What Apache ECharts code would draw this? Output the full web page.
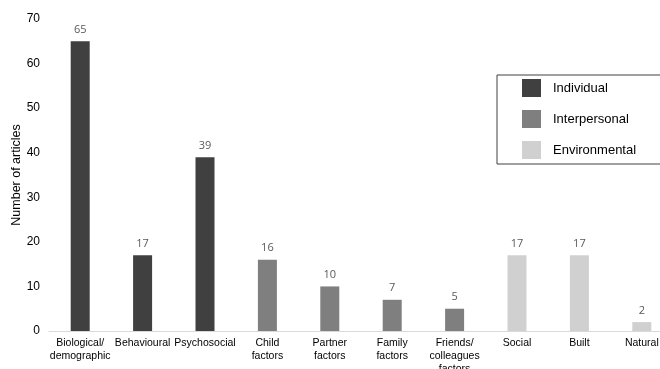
<!DOCTYPE html>
<html>
<head>
<meta charset="utf-8">
<script src="https://cdn.jsdelivr.net/npm/echarts@6/dist/echarts.min.js"></script>
<style>
  html, body { margin: 0; padding: 0; background: #fff; }
  #chart { width: 660px; height: 369px; }
</style>
</head>
<body>
<div id="chart"></div>
<script>
// categories along the x axis
const categories = [
  'Biological/\ndemographic', 'Behavioural', 'Psychosocial', 'Child\nfactors', 'Partner\nfactors',
  'Family\nfactors', 'Friends/\ncolleagues\nfactors', 'Social', 'Built', 'Natural'
]
// one array per level, '-' where the level has no bar
const individual = [65, 17, 39, '-', '-', '-', '-', '-', '-', '-']
const interpersonal = ['-', '-', '-', 16, 10, 7, 5, '-', '-', '-']
const environmental = ['-', '-', '-', '-', '-', '-', '-', 17, 17, 2]
const levelNames = ['Individual', 'Interpersonal', 'Environmental']
const levelColors = ['#404040', '#7f7f7f', '#d0d0d0']

const font = 'Liberation Sans, Arial, sans-serif'

const makeSeries = (name, data, color) => ({
  name,
  type: 'bar',
  stack: 'all',
  data,
  barWidth: 19,
  itemStyle: { color },
  label: {
    show: true,
    position: 'top',
    distance: 6,
    color: '#595959',
    fontSize: 11,
    fontFamily: 'Open Sans, sans-serif'
  }
})

const chart = echarts.init(document.getElementById('chart'))
chart.setOption({
  animation: false,
  grid: { left: 49, top: 19, bottom: 38, width: 624, outerBoundsMode: 'none', containLabel: false },
  legend: {
    data: levelNames,
    orient: 'vertical',
    left: 497,
    top: 75,
    padding: [4, 200, 5, 25],
    itemWidth: 19,
    itemHeight: 18,
    itemGap: 13,
    icon: 'rect',
    borderColor: '#404040',
    borderWidth: 1,
    textStyle: { fontFamily: font, fontSize: 13, color: '#000', padding: [0, 0, 0, 7] }
  },
  xAxis: {
    type: 'category',
    data: categories,
    axisLine: { lineStyle: { color: '#d9d9d9' } },
    axisTick: { show: false },
    axisLabel: {
      interval: 0,
      margin: 6,
      color: '#000',
      fontSize: 10.5,
      lineHeight: 13,
      fontFamily: font
    }
  },
  yAxis: {
    type: 'value',
    min: 0,
    max: 70,
    interval: 10,
    name: 'Number of articles',
    nameLocation: 'middle',
    nameGap: 26,
    nameMoveOverlap: false,
    nameTextStyle: { fontFamily: font, fontSize: 12.5, color: '#000' },
    splitLine: { show: false },
    axisLine: { show: false },
    axisLabel: { color: '#000', fontSize: 12, fontFamily: font, margin: 9 }
  },
  series: [
    makeSeries(levelNames[0], individual, levelColors[0]),
    makeSeries(levelNames[1], interpersonal, levelColors[1]),
    makeSeries(levelNames[2], environmental, levelColors[2])
  ]
})
</script>
</body>
</html>
